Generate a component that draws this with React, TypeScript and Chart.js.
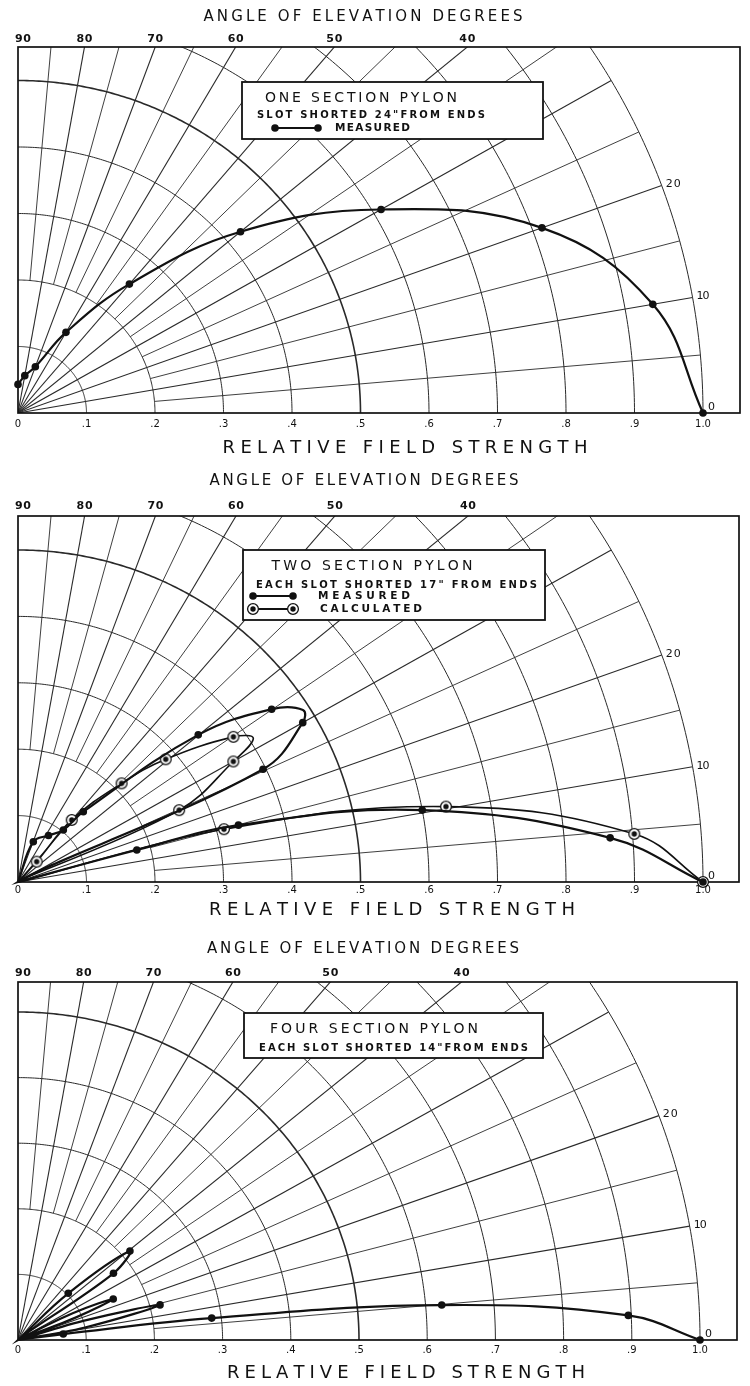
import React, { useEffect, useRef } from "react";
import { Chart, registerables } from "chart.js";
Chart.register(...registerables);

// ---------- DATA (angle of elevation in degrees, relative field strength) ----------
// Panel 1: one section pylon, measured
const P1_MEAS_ANG = [90, 80, 70, 60, 50, 40, 30, 20, 10, 0];
const P1_MEAS_R = [0.043, 0.057, 0.074, 0.14, 0.253, 0.424, 0.612, 0.814, 0.941, 1.0];
const P1_MEAS_MARK = [1, 1, 1, 1, 1, 1, 1, 1, 1, 1];

// Panel 2: two section pylon
const P2_MEAS_ANG = [0, 4.4, 10.4, 14.9, 15.5, 18, 25.4, 30, 31.9, 35.1, 40.1, 48, 49.8, 57.6, 69.8, 90];
const P2_MEAS_R = [1.0, 0.867, 0.6, 0.333, 0.18, 0, 0.396, 0.48, 0.49, 0.4526, 0.344, 0.1425, 0.1025, 0.083, 0.0647, 0];
const P2_MEAS_MARK = [1, 1, 1, 1, 1, 0, 1, 1, 0, 1, 1, 1, 1, 1, 1, 0];

const P2_CALC_ANG = [0, 4.6, 10.3, 14.8, 19, 24.7, 30, 32.2, 34.8, 40.6, 44.5, 50, 48.3, 55];
const P2_CALC_R = [1.0, 0.9026, 0.635, 0.311, 0, 0.259, 0.363, 0.406, 0.383, 0.284, 0.212, 0.122, 0.041, 0];
const P2_CALC_MARK = [1, 1, 1, 1, 0, 1, 1, 0, 1, 1, 1, 1, 1, 0];

// Panel 3: four section pylon, measured
const P3_MEAS_ANG = [0, 2.4, 4.9, 6.7, 7.8, 9, 11, 14.4, 17, 20, 22, 24.1, 27, 30, 36, 39.6, 44, 50];
const P3_MEAS_R = [1.0, 0.8957, 0.6236, 0.286, 0.067, 0, 0.1, 0.215, 0.1, 0, 0.09, 0.153, 0.09, 0, 0.173, 0.213, 0.1025, 0];
const P3_MEAS_MARK = [1, 1, 1, 1, 1, 0, 0, 1, 0, 0, 0, 1, 0, 0, 1, 1, 1, 0];

// Axis labels
const TOP_ANGLE_LABELS = [90, 80, 70, 60, 50, 40];
const SIDE_ANGLE_LABELS = [20, 10, 0];
const FIELD_TICKS = [0, 0.1, 0.2, 0.3, 0.4, 0.5, 0.6, 0.7, 0.8, 0.9, 1.0];
const FIELD_TICK_LABELS = ["0", ".1", ".2", ".3", ".4", ".5", ".6", ".7", ".8", ".9", "1.0"];
const GRID_RADII = [0.1, 0.2, 0.3, 0.4, 0.5, 0.6, 0.7, 0.8, 0.9, 1.0];
const GRID_ANGLES = [5, 10, 15, 20, 25, 30, 35, 40, 45, 50, 55, 60, 65, 70, 75, 80, 85];

const TITLE_TOP = "ANGLE OF ELEVATION DEGREES";
const TITLE_BOTTOM = "RELATIVE FIELD STRENGTH";

const FONT = "'DejaVu Sans', 'Liberation Sans', sans-serif";
const INK = "#111";

const D2R = Math.PI / 180;
function toXY(ang: number[], r: number[]) {
  return ang.map((a, i) => ({ x: r[i] * Math.cos(a * D2R), y: r[i] * Math.sin(a * D2R) }));
}

function makeRing(): HTMLCanvasElement {
  const c = document.createElement("canvas");
  c.width = 14;
  c.height = 14;
  const g = c.getContext("2d")!;
  g.fillStyle = "#fff";
  g.beginPath();
  g.arc(7, 7, 5.6, 0, Math.PI * 2);
  g.fill();
  g.strokeStyle = INK;
  g.lineWidth = 1.3;
  g.beginPath();
  g.arc(7, 7, 5.4, 0, Math.PI * 2);
  g.stroke();
  g.fillStyle = INK;
  g.beginPath();
  g.arc(7, 7, 2.7, 0, Math.PI * 2);
  g.fill();
  return c;
}

function spaced(ctx: CanvasRenderingContext2D, text: string, x: number, y: number, width: number, font: string, align: "left" | "center") {
  ctx.font = font;
  const chars = [...text];
  const ws = chars.map((c) => ctx.measureText(c).width);
  const total = ws.reduce((a, b) => a + b, 0);
  const gap = chars.length > 1 ? (width - total) / (chars.length - 1) : 0;
  let cx = align === "center" ? x - width / 2 : x;
  ctx.textAlign = "left";
  ctx.textBaseline = "middle";
  chars.forEach((c, i) => {
    ctx.fillText(c, cx, y);
    cx += ws[i] + gap;
  });
}

type LegendText = { text: string; x: number; dy: number; w: number; font: string; align: "left" | "center" };
type LegendSample = { x1: number; x2: number; dy: number; kind: "dot" | "ring" };
type PanelCfg = {
  top: number;
  height: number;
  pad: { top: number; bottom: number; left: number; right: number };
  xMax: number;
  yMax: number;
  titleTop: { cx: number; dy: number; w: number };
  angleDy: number;
  tickDy: number;
  titleBottom: { cx: number; dy: number; w: number };
  box: { x: number; dy: number; w: number; h: number };
  texts: LegendText[];
  samples: LegendSample[];
  series: { ang: number[]; r: number[]; mark: number[]; kind: "dot" | "ring" }[];
};

const PANELS: PanelCfg[] = [
  {
    top: 0,
    height: 462,
    pad: { top: 47, bottom: 49, left: 18, right: 10 },
    xMax: 722 / 685,
    yMax: 366 / 665,
    titleTop: { cx: 363, dy: -30, w: 319 },
    angleDy: -8,
    tickDy: 11,
    titleBottom: { cx: 405, dy: 35, w: 365 },
    box: { x: 242, dy: 35, w: 301, h: 57 },
    texts: [
      { text: "ONE SECTION PYLON", x: 361, dy: 16, w: 192, font: `14px ${FONT}`, align: "center" },
      { text: 'SLOT SHORTED 24"FROM ENDS', x: 371, dy: 33, w: 228, font: `bold 10px ${FONT}`, align: "center" },
      { text: "MEASURED", x: 335, dy: 46, w: 75, font: `bold 10.5px ${FONT}`, align: "left" },
    ],
    samples: [{ x1: 275, x2: 318, dy: 46, kind: "dot" }],
    series: [{ ang: P1_MEAS_ANG, r: P1_MEAS_R, mark: P1_MEAS_MARK, kind: "dot" }],
  },
  {
    top: 462,
    height: 464,
    pad: { top: 54, bottom: 44, left: 18, right: 11 },
    xMax: 721 / 685,
    yMax: 366 / 664,
    titleTop: { cx: 364, dy: -35, w: 309 },
    angleDy: -10,
    tickDy: 8,
    titleBottom: { cx: 392, dy: 28, w: 366 },
    box: { x: 243, dy: 34, w: 302, h: 70 },
    texts: [
      { text: "TWO SECTION PYLON", x: 372, dy: 16, w: 201, font: `14px ${FONT}`, align: "center" },
      { text: 'EACH SLOT SHORTED 17" FROM ENDS', x: 256, dy: 35, w: 281, font: `bold 10px ${FONT}`, align: "left" },
      { text: "MEASURED", x: 318, dy: 46, w: 92, font: `bold 10.5px ${FONT}`, align: "left" },
      { text: "CALCULATED", x: 320, dy: 59, w: 102, font: `bold 10.5px ${FONT}`, align: "left" },
    ],
    samples: [
      { x1: 253, x2: 293, dy: 46, kind: "dot" },
      { x1: 253, x2: 293, dy: 59, kind: "ring" },
    ],
    series: [
      { ang: P2_MEAS_ANG, r: P2_MEAS_R, mark: P2_MEAS_MARK, kind: "dot" },
      { ang: P2_CALC_ANG, r: P2_CALC_R, mark: P2_CALC_MARK, kind: "ring" },
    ],
  },
  {
    top: 926,
    height: 460,
    pad: { top: 56, bottom: 46, left: 18, right: 13 },
    xMax: 719 / 682,
    yMax: 358 / 656,
    titleTop: { cx: 363, dy: -33, w: 312 },
    angleDy: -9,
    tickDy: 10,
    titleBottom: { cx: 406, dy: 33, w: 358 },
    box: { x: 244, dy: 31, w: 299, h: 45 },
    texts: [
      { text: "FOUR SECTION PYLON", x: 374, dy: 16, w: 208, font: `14px ${FONT}`, align: "center" },
      { text: 'EACH SLOT SHORTED 14"FROM ENDS', x: 259, dy: 35, w: 269, font: `bold 10px ${FONT}`, align: "left" },
    ],
    samples: [],
    series: [{ ang: P3_MEAS_ANG, r: P3_MEAS_R, mark: P3_MEAS_MARK, kind: "dot" }],
  },
];

function polarPlugin(cfg: PanelCfg, ring: HTMLCanvasElement) {
  return {
    id: "polarPaper",
    beforeDraw(chart: any) {
      const ctx = chart.ctx as CanvasRenderingContext2D;
      ctx.save();
      ctx.fillStyle = "#fff";
      ctx.fillRect(0, 0, chart.width, chart.height);
      ctx.restore();
    },
    beforeDatasetsDraw(chart: any) {
      const ctx = chart.ctx as CanvasRenderingContext2D;
      const xs = chart.scales.x;
      const ys = chart.scales.y;
      const a = chart.chartArea;
      const P = (x: number, y: number) => [xs.getPixelForValue(x), ys.getPixelForValue(y)];
      ctx.save();
      ctx.beginPath();
      ctx.rect(a.left, a.top, a.right - a.left, a.bottom - a.top);
      ctx.clip();
      ctx.strokeStyle = "#2a2a2a";
      GRID_RADII.forEach((r) => {
        ctx.lineWidth = Math.abs(r - 0.5) < 1e-6 ? 1.6 : 1;
        ctx.beginPath();
        for (let t = 0; t <= 90.001; t += 0.5) {
          const [px, py] = P(r * Math.cos(t * D2R), r * Math.sin(t * D2R));
          if (t === 0) ctx.moveTo(px, py);
          else ctx.lineTo(px, py);
        }
        ctx.stroke();
      });
      GRID_ANGLES.forEach((ang) => {
        const r0 = ang % 10 === 0 ? 0 : 0.2;
        ctx.lineWidth = ang % 10 === 0 ? 1.1 : 0.9;
        const c = Math.cos(ang * D2R);
        const s = Math.sin(ang * D2R);
        const [x0, y0] = P(r0 * c, r0 * s);
        const [x1, y1] = P(c, s);
        ctx.beginPath();
        ctx.moveTo(x0, y0);
        ctx.lineTo(x1, y1);
        ctx.stroke();
      });
      ctx.restore();
      ctx.save();
      ctx.strokeStyle = INK;
      ctx.lineWidth = 1.7;
      ctx.strokeRect(a.left, a.top, a.right - a.left, a.bottom - a.top);
      ctx.restore();
    },
    afterDatasetsDraw(chart: any) {
      const ctx = chart.ctx as CanvasRenderingContext2D;
      const xs = chart.scales.x;
      const ys = chart.scales.y;
      const a = chart.chartArea;
      ctx.save();
      ctx.fillStyle = INK;
      // top title
      spaced(ctx, TITLE_TOP, cfg.titleTop.cx, a.top + cfg.titleTop.dy, cfg.titleTop.w, `15px ${FONT}`, "center");
      // angle labels along top
      TOP_ANGLE_LABELS.forEach((ang) => {
        const xv = ang === 90 ? 0 : cfg.yMax / Math.tan(ang * D2R);
        let px = xs.getPixelForValue(xv);
        if (ang === 90) px += 5;
        spaced(ctx, String(ang), px, a.top + cfg.angleDy, 16, `bold 11px ${FONT}`, "center");
      });
      // angle labels on right
      SIDE_ANGLE_LABELS.forEach((ang) => {
        const px = xs.getPixelForValue(Math.cos(ang * D2R));
        const py = ys.getPixelForValue(Math.sin(ang * D2R));
        if (ang === 0) spaced(ctx, "0", px + 5, py - 6, 9, `11px ${FONT}`, "left");
        else spaced(ctx, String(ang), px + 4, py - 1, ang === 10 ? 13 : 15, `11px ${FONT}`, "left");
      });
      // field strength ticks
      FIELD_TICKS.forEach((v, i) => {
        const px = xs.getPixelForValue(v);
        const lbl = FIELD_TICK_LABELS[i];
        ctx.font = `10px ${FONT}`;
        ctx.textAlign = "center";
        ctx.textBaseline = "middle";
        ctx.fillText(lbl, px, a.bottom + cfg.tickDy);
      });
      // bottom title
      spaced(ctx, TITLE_BOTTOM, cfg.titleBottom.cx, a.bottom + cfg.titleBottom.dy, cfg.titleBottom.w, `18px ${FONT}`, "center");
      // legend box
      const bx = cfg.box.x;
      const by = a.top + cfg.box.dy;
      ctx.fillStyle = "#fff";
      ctx.fillRect(bx, by, cfg.box.w, cfg.box.h);
      ctx.strokeStyle = INK;
      ctx.lineWidth = 1.8;
      ctx.strokeRect(bx, by, cfg.box.w, cfg.box.h);
      ctx.fillStyle = INK;
      cfg.texts.forEach((t) => spaced(ctx, t.text, t.x, by + t.dy, t.w, t.font, t.align));
      cfg.samples.forEach((s) => {
        const y = by + s.dy;
        ctx.strokeStyle = INK;
        ctx.lineWidth = 1.8;
        ctx.beginPath();
        ctx.moveTo(s.x1, y);
        ctx.lineTo(s.x2, y);
        ctx.stroke();
        [s.x1, s.x2].forEach((x) => {
          if (s.kind === "dot") {
            ctx.fillStyle = INK;
            ctx.beginPath();
            ctx.arc(x, y, 3.8, 0, Math.PI * 2);
            ctx.fill();
          } else {
            ctx.drawImage(ring, x - ring.width / 2, y - ring.height / 2);
          }
        });
      });
      ctx.restore();
    },
  };
}

function Panel({ cfg }: { cfg: PanelCfg }) {
  const ref = useRef<HTMLCanvasElement>(null);
  useEffect(() => {
    const ring = makeRing();
    const chart = new Chart(ref.current!, {
      type: "scatter",
      data: {
        datasets: cfg.series.map((s) => ({
          data: toXY(s.ang, s.r),
          showLine: true,
          borderColor: INK,
          borderWidth: s.kind === "dot" ? 2.2 : 1.6,
          tension: 0.4,
          backgroundColor: INK,
          pointBackgroundColor: INK,
          pointBorderWidth: 0,
          pointRadius: s.mark.map((m) => (m ? (s.kind === "dot" ? 3.8 : 5.5) : 0)),
          pointStyle: s.kind === "dot" ? "circle" : (ring as any),
          clip: 8,
        })),
      },
      options: {
        animation: false,
        responsive: false,
        maintainAspectRatio: false,
        events: [],
        layout: { padding: cfg.pad },
        scales: {
          x: { type: "linear", min: 0, max: cfg.xMax, display: false },
          y: { type: "linear", min: 0, max: cfg.yMax, display: false },
        },
        plugins: { legend: { display: false }, tooltip: { enabled: false } },
      } as any,
      plugins: [polarPlugin(cfg, ring)],
    });
    return () => chart.destroy();
  }, [cfg]);
  return (
    <canvas
      ref={ref}
      width={750}
      height={cfg.height}
      style={{ position: "absolute", left: 0, top: cfg.top, width: 750, height: cfg.height, display: "block" }}
    />
  );
}

export default function App() {
  return (
    <div style={{ position: "absolute", left: 0, top: 0, width: 750, height: 1386, background: "#fff" }}>
      {PANELS.map((p, i) => (
        <Panel key={i} cfg={p} />
      ))}
    </div>
  );
}
